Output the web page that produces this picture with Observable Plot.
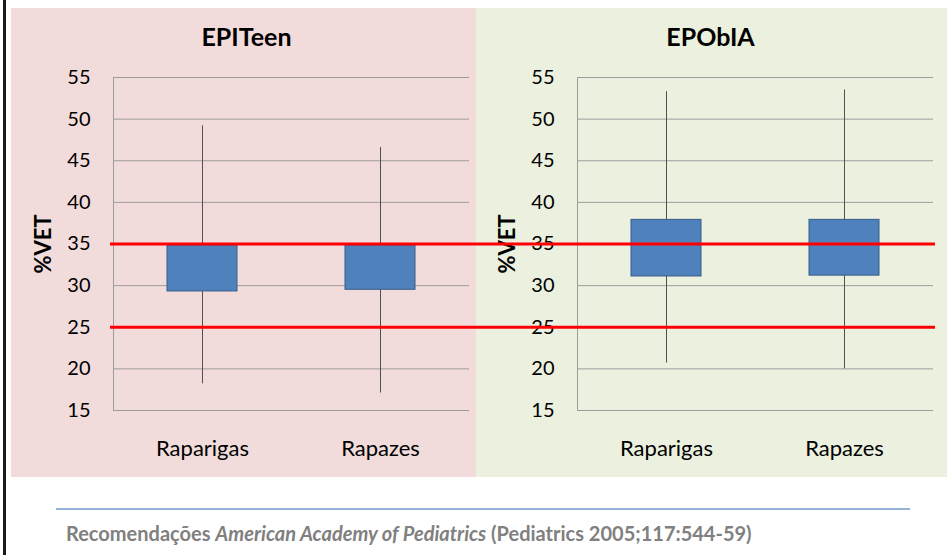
<!DOCTYPE html>
<html>
<head>
<meta charset="utf-8">
<script src="https://cdn.jsdelivr.net/npm/d3@7"></script>
<script src="https://cdn.jsdelivr.net/npm/@observablehq/plot@0.6"></script>
<style>
  html, body { margin: 0; padding: 0; background: #fff; }
  #page { position: relative; width: 947px; height: 555px; overflow: hidden; font-family: Lato, sans-serif; }
  .border { position: absolute; left: 3px; top: 0; width: 3px; height: 555px; background: #1a1a1a; }
  .panel { position: absolute; top: 8px; height: 469px; }
  #p1 { left: 11px; width: 465px; background: #F2DCDB; }
  #p2 { left: 476px; width: 471px; background: #EBF1DE; }
  #chart { position: absolute; left: 0; top: 0; }
  .rule { position: absolute; left: 56px; top: 508px; width: 854px; height: 2px; background: #95B3D7; }
  .caption { position: absolute; left: 66px; top: 521px; font-size: 20px; line-height: 24px; font-weight: bold; color: #808080; white-space: nowrap; }
</style>
</head>
<body>
<div id="page">
  <div class="border"></div>
  <div class="panel" id="p1"></div>
  <div class="panel" id="p2"></div>
  <div id="chart"></div>
  <div class="rule"></div>
  <div class="caption">Recomendações <i>American Academy of Pediatrics</i> (Pediatrics 2005;117:544-59)</div>
</div>
<script>
// ---- data ----
const panels = ["EPITeen", "EPObIA"];
const groups = ["Raparigas", "Rapazes"];
const boxPanel   = ["EPITeen", "EPITeen", "EPObIA", "EPObIA"];
const boxGroup   = ["Raparigas", "Rapazes", "Raparigas", "Rapazes"];
const whiskerLow  = [18.2, 17.1, 20.7, 20.0];
const boxLow      = [29.3, 29.5, 31.1, 31.2];
const boxHigh     = [34.8, 34.8, 37.9, 37.9];
const whiskerHigh = [49.2, 46.6, 53.3, 53.5];
const yTicks = [15, 20, 25, 30, 35, 40, 45, 50, 55];
const referenceLines = [25, 35];
const yLabel = "%VET";

const boxes = boxPanel.map((p, i) => ({
  panel: p, group: boxGroup[i],
  lo: whiskerLow[i], q1: boxLow[i], q3: boxHigh[i], hi: whiskerHigh[i]
}));
const refLeft = referenceLines.map(v => ({panel: panels[0], y: v}));
const refRight = referenceLines.map(v => ({panel: panels[1], y: v}));

const chart = Plot.plot({
  width: 947,
  height: 480,
  marginLeft: 113,
  marginRight: 13,
  marginTop: 77,
  marginBottom: 70,
  style: {fontFamily: "Lato, sans-serif", background: "transparent", color: "#000", overflow: "visible"},
  fx: {domain: panels, paddingInner: 0.2323, paddingOuter: 0, axis: null},
  x: {domain: groups, padding: 0},
  y: {domain: [15, 55]},
  marks: [
    Plot.gridY(yTicks, {facetAnchor: null, stroke: "#9c9c9c", strokeOpacity: 1}),
    Plot.frame({anchor: "left", stroke: "#9c9c9c"}),
    Plot.axisY({ticks: yTicks, tickSize: 0, tickPadding: 23, fontSize: 20, label: null, facetAnchor: null}),
    Plot.axisX({tickSize: 0, tickPadding: 30, fontSize: 22, label: null}),
    Plot.text(panels, {fx: d => d, text: d => d, frameAnchor: "top", dy: -40, dx: -45, fontSize: 25, fontWeight: "bold", lineAnchor: "middle"}),
    Plot.text(panels, {fx: d => d, text: () => yLabel, frameAnchor: "left", dx: -70, rotate: -90, textAnchor: "middle", fontSize: 22, fontWeight: "bold"}),
    Plot.ruleX(boxes, {fx: "panel", x: "group", y1: "lo", y2: "hi", stroke: "#505050", strokeWidth: 1}),
    Plot.barY(boxes, {fx: "panel", x: "group", y1: "q1", y2: "q3", fill: "#4F81BD", stroke: "#385D8A", strokeWidth: 1, insetLeft: 54, insetRight: 54}),
    Plot.ruleY(refLeft, {fx: "panel", y: "y", stroke: "#FF0000", strokeWidth: 3, insetLeft: -3, insetRight: -54}),
    Plot.ruleY(refRight, {fx: "panel", y: "y", stroke: "#FF0000", strokeWidth: 3, insetLeft: -54, insetRight: -2})
  ]
});
document.getElementById("chart").append(chart);
</script>
</body>
</html>
